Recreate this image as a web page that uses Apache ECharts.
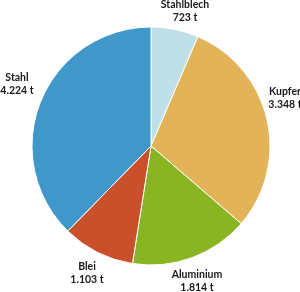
<!DOCTYPE html>
<html>
<head>
<meta charset="utf-8">
<script src="https://cdn.jsdelivr.net/npm/echarts@6/dist/echarts.min.js"></script>
<style>
html,body{margin:0;padding:0;background:#fff;}
#c{width:300px;height:292px;}
</style>
</head>
<body>
<div id="c"></div>
<script>
const categories = ["Stahlblech", "Kupfer", "Aluminium", "Blei", "Stahl"];
const values = [723, 3348, 1814, 1103, 4224];
const valueLabels = ["723 t", "3.348 t", "1.814 t", "1.103 t", "4.224 t"];
const colors = ["#bfe0e8", "#e2b357", "#8ab523", "#c9502b", "#3f98c9"];
const labelPos = [[185, 11], [285, 98], [197, 281], [87, 273], [17, 84]];

const chart = echarts.init(document.getElementById('c'), null, {renderer: 'canvas'});
chart.setOption({
  animation: false,
  series: [{
    type: 'pie',
    center: [151, 146],
    radius: [0, 119],
    startAngle: 90,
    clockwise: true,
    itemStyle: {borderColor: '#fff', borderWidth: 1},
    label: {
      show: true,
      position: 'inside',
      formatter: p => p.name + '\n' + valueLabels[p.dataIndex],
      fontFamily: 'Lato',
      fontWeight: 'bold',
      fontSize: 10.5,
      lineHeight: 13,
      color: '#1a1a1a',
      align: 'center',
      overflow: 'none'
    },
    labelLine: {show: false},
    labelLayout: p => ({
      x: labelPos[p.dataIndex][0],
      y: labelPos[p.dataIndex][1],
      align: 'center',
      verticalAlign: 'middle',
      hideOverlap: false
    }),
    data: categories.map((c, i) => ({name: c, value: values[i], itemStyle: {color: colors[i]}}))
  }]
});
</script>
</body>
</html>
